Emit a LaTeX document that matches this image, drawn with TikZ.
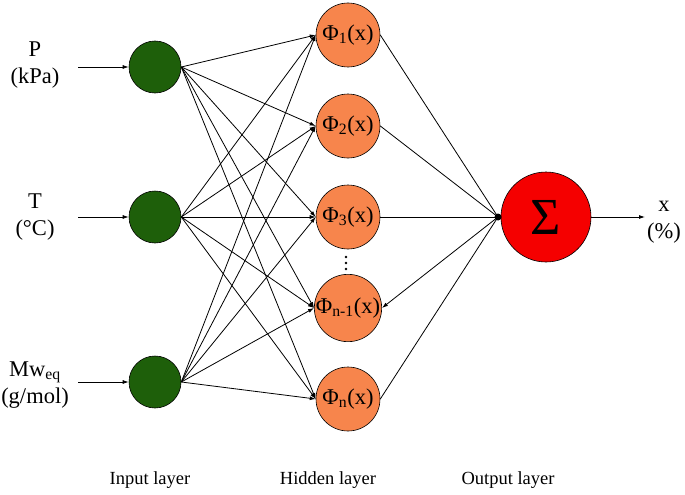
\documentclass[tikz,border=0pt]{standalone}
\usepackage{fontspec}
\setmainfont{Liberation Serif}
\usetikzlibrary{arrows.meta}
\definecolor{ingreen}{RGB}{30,95,10}
\definecolor{hidorange}{RGB}{247,133,76}
\definecolor{sumred}{RGB}{245,0,0}
\begin{document}
\begin{tikzpicture}[x=1pt,y=-1pt,
  inode/.style={circle,draw=black,line width=0.6pt,fill=ingreen,minimum size=52pt,inner sep=0pt},
  hnode/.style={circle,draw=black,line width=0.6pt,fill=hidorange,minimum size=64pt,inner sep=0pt,font=\fontsize{22.5}{22.5}\selectfont},
  snode/.style={circle,draw=black,line width=0.6pt,fill=sumred,minimum size=90pt,inner sep=0pt,font=\fontsize{52}{52}\selectfont},
  lbl/.style={align=center,font=\fontsize{22.5}{27}\selectfont},
  blbl/.style={font=\fontsize{18.5}{18.5}\selectfont},
  vdot/.style={circle,fill=black,inner sep=0pt,minimum size=2.6pt},
  conn/.style={line width=0.8pt,-{Latex[length=6pt,width=4pt]}},
  plain/.style={line width=0.8pt}]
\useasboundingbox (0,0) rectangle (685,495);
% input nodes
\node[inode] (i1) at (155,67) {};
\node[inode] (i2) at (155,217) {};
\node[inode] (i3) at (155,382) {};
% hidden nodes
\node[hnode] (h1) at (348,35) {Φ\textsubscript{1}(x)};
\node[hnode] (h2) at (348,126) {Φ\textsubscript{2}(x)};
\node[hnode] (h3) at (348,217) {Φ\textsubscript{3}(x)};
\node[hnode] (h4) at (348,308) {Φ\textsubscript{n-1}(x)};
\node[hnode] (h5) at (348,399) {Φ\textsubscript{n}(x)};
\node[vdot] (d1) at (346,257) {};
\node[vdot] (d2) at (346,263) {};
\node[vdot] (d3) at (346,269) {};
% output
\node[snode] (s) at (546,217) {Σ};
\node[circle,fill=black,inner sep=0pt,minimum size=7pt] (dot) at (498,217) {};
% input labels
\node[lbl] (lp) at (35,65) {P\\(kPa)};
\node[lbl] (lt) at (35,217) {T\\(°C)};
\node[lbl] (lm) at (35,385) {Mw\textsubscript{eq}\\(g/mol)};
\node[lbl] (lx) at (664,222) {x\\(\%)};
\coordinate (a1) at (78,67);
\coordinate (a2) at (78,217);
\coordinate (a3) at (78,382);
\coordinate (ao) at (645,217);
\draw[conn] (a1) -- (i1.west);
\draw[conn] (a2) -- (i2.west);
\draw[conn] (a3) -- (i3.west);
% input to hidden
\foreach \i in {i1,i2,i3}{
  \foreach \h in {h1,h2,h3,h4,h5}{
    \draw[conn] (\i.east) -- (\h.west);
  }
}
% hidden to sum
\foreach \h in {h1,h2,h3,h5}{
  \draw[plain] (\h.east) -- (dot.center);
}
\draw[conn] (dot.center) -- (h4.east);
\draw[conn] (s.east) -- (ao);
% bottom labels
\node[blbl] (bl1) at (150,480) {Input layer};
\node[blbl] (bl2) at (328,480) {Hidden layer};
\node[blbl] (bl3) at (508,480) {Output layer};
\end{tikzpicture}
\end{document}
